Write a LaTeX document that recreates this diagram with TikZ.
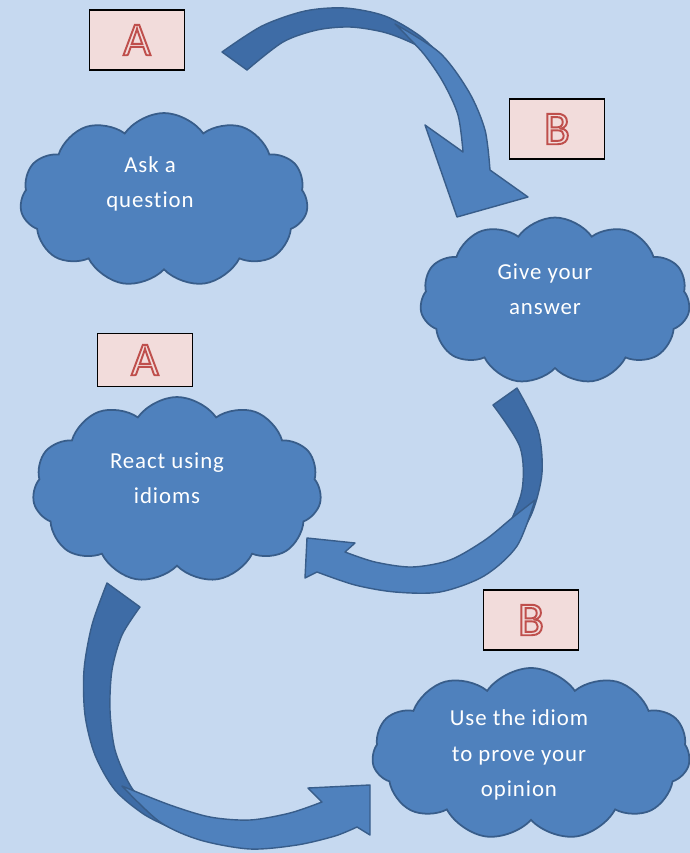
\documentclass[tikz,border=0pt]{standalone}
\usepackage{fontspec}
\setmainfont{Carlito}
\newfontfamily\cloudfont[LetterSpace=4, Ligatures=NoCommon]{Carlito}
\usetikzlibrary{shapes.symbols}

\definecolor{pagebg}{HTML}{C6D9F0}
\definecolor{cloudfill}{HTML}{4F81BD}
\definecolor{cloudline}{HTML}{385D8A}
\definecolor{arrowdark}{HTML}{3E6CA6}
\definecolor{boxpink}{HTML}{F2DCDB}

\newcommand{\roleletter}[1]{\textcolor{boxpink}{\special{pdf:code q 2 Tr 1.1 w 0.75 0.31 0.30 RG}#1\special{pdf:code Q}}}

\tikzset{
  cloudbox/.style={cloud, cloud puffs=11, cloud puff arc=110, cloud ignores aspect,
    draw=cloudline, line width=1pt, fill=cloudfill, inner sep=0pt},
  cloudtext/.style={text=white, align=center, font=\cloudfont\fontsize{13}{20}\selectfont},
  rolebox/.style={draw=black, line width=1.1pt, fill=boxpink, minimum width=1.9cm,
    minimum height=1.2cm, font=\fontsize{27}{27}\selectfont},
  arrowback/.style={fill=arrowdark, draw=cloudline, line width=0.8pt, line join=round},
  arrowfront/.style={fill=cloudfill, draw=cloudline, line width=0.8pt, line join=round}
}

\begin{document}
\begin{tikzpicture}[x=0.02cm, y=-0.02cm]
  \fill [pagebg] (0,0) rectangle (690,853);
  \useasboundingbox (0,0) rectangle (690,853);

  \node [rolebox] (a1) at (137,40) {\roleletter{A}};
  \node [rolebox] (b1) at (557,129) {\roleletter{B}};
  \node [rolebox, minimum height=1.06cm] (a2) at (145,360) {\roleletter{A}};
  \node [rolebox] (b2) at (531,620) {\roleletter{B}};

  \node [cloudbox, minimum width=5.76cm, minimum height=3.48cm] (ask) at (164,200) {};
  \node [cloudbox, minimum width=5.4cm, minimum height=3.34cm] (give) at (555,301) {};
  \node [cloudbox, minimum width=5.78cm, minimum height=3.72cm] (react) at (177,490) {};
  \node [cloudbox, minimum width=6.36cm, minimum height=3.44cm] (use) at (531,754) {};

  \node [cloudtext] (ask-t) at (150,184) {Ask a\\question};
  \node [cloudtext] (give-t) at (545,289) {Give your\\answer};
  \node [cloudtext] (react-t) at (167,478) {React using\\idioms};
  \node [cloudtext] (use-t) at (519,755) {Use the idiom\\to prove your\\opinion};

  \draw [arrowback] plot [smooth] coordinates {(222,52) (262,26) (305,11) (345,8) (385,16) (420,36) (445,60)}
    -- plot [smooth] coordinates {(445,60) (410,42) (383,32) (350,27) (317,30) (283,42) (247,70)} -- cycle;
  \draw [arrowfront] plot [smooth] coordinates {(395,24) (440,53) (469,92) (485,130) (490,170)}
    -- (528,197) -- (457,217) -- (425,125) -- (463,152)
    -- plot [smooth] coordinates {(463,152) (458,115) (443,82) (423,53) (395,24)} -- cycle;

  \draw [arrowback] plot [smooth] coordinates {(517,388) (538,430) (542,473) (532,513) (512,545) (482,570)}
    -- plot [smooth] coordinates {(482,570) (505,533) (522,490) (520,447) (493,405)} -- cycle;
  \draw [arrowfront] plot [smooth] coordinates {(535,500) (517,546) (484,576) (440,592) (395,592) (355,585) (317,572)}
    -- (305,578) -- (307,538) -- (355,543) -- (345,552)
    -- plot [smooth] coordinates {(345,552) (375,562) (412,567) (450,560) (485,540) (512,518) (535,500)} -- cycle;

  \draw [arrowback] plot [smooth] coordinates {(107,583) (92,625) (84,670) (85,715) (95,755) (115,790) (145,815) (178,831)}
    -- plot [smooth] coordinates {(178,831) (150,810) (130,785) (115,750) (110,710) (112,670) (122,635) (140,607)} -- cycle;
  \draw [arrowfront] plot [smooth] coordinates {(122,786) (160,822) (200,840) (250,849) (297,845) (335,836) (357,827)}
    -- (370,835) -- (370,785) -- (308,788) -- (322,802)
    -- plot [smooth] coordinates {(322,802) (290,813) (250,820) (210,817) (170,805) (122,786)} -- cycle;
\end{tikzpicture}
\end{document}
